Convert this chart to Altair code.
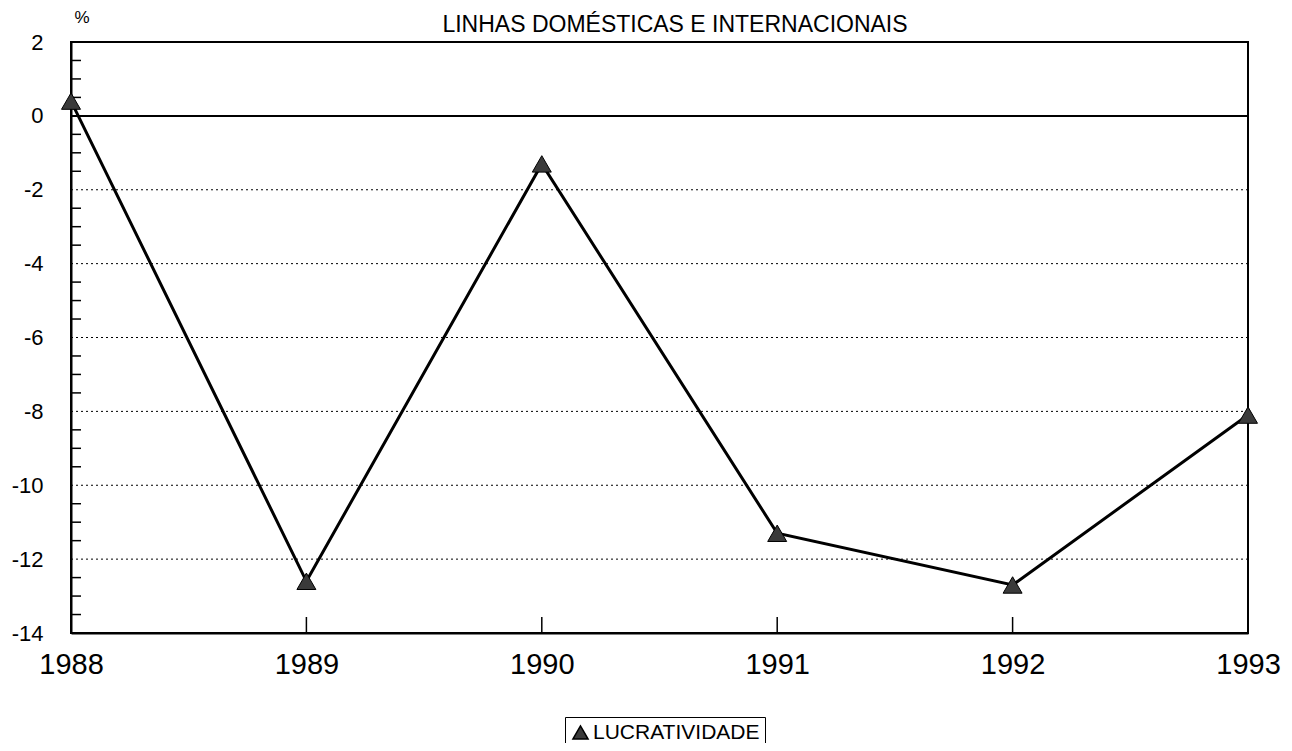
import altair as alt
import pandas as pd

# ---- data ----
years = [1988, 1989, 1990, 1991, 1992, 1993]
lucratividade = [0.4, -12.6, -1.3, -11.3, -12.7, -8.1]
series_name = "LUCRATIVIDADE"
y_tick_labels = [2, 0, -2, -4, -6, -8, -10, -12, -14]
grid_dotted = [-2, -4, -6, -8, -10, -12]
zero_line = [0]
minor_y = [1.5, 1, 0.5, -0.5, -1, -1.5, -2.5, -3, -3.5, -4.5, -5, -5.5,
           -6.5, -7, -7.5, -8.5, -9, -9.5, -10.5, -11, -11.5, -12.5, -13, -13.5]
title_text = "LINHAS DOMÉSTICAS E INTERNACIONAIS"
unit_text = "%"

FONT = "Liberation Sans"

df = pd.DataFrame({"ano": years, "valor": lucratividade, "serie": [series_name] * len(years)})

x_scale = alt.Scale(domain=[1988, 1993], nice=False, zero=False)
y_scale = alt.Scale(domain=[-14, 2], nice=False, zero=False)

x_axis = alt.Axis(values=years, format="d", labelFontSize=29, labelPadding=17,
                  ticks=False, domain=True, domainColor="black", domainWidth=2,
                  grid=False, title=None, labelColor="black", labelFont=FONT,
                  labelFlush=False)
y_axis = alt.Axis(values=y_tick_labels, labelFontSize=22, labelPadding=28,
                  ticks=False, domain=True, domainColor="black", domainWidth=2,
                  grid=False, title=None, labelColor="black", labelFont=FONT,
                  labelFlush=False,
                  labelExpr="datum.value < 0 ? '-' + abs(datum.value) : '' + datum.value")

X = alt.X("ano:Q", scale=x_scale, axis=x_axis)
Y = alt.Y("valor:Q", scale=y_scale, axis=y_axis)

grid = alt.Chart(pd.DataFrame({"valor": grid_dotted})).mark_rule(
    color="black", strokeDash=[2, 3], strokeWidth=1
).encode(y=Y)

zero = alt.Chart(pd.DataFrame({"valor": zero_line})).mark_rule(
    color="black", strokeWidth=2
).encode(y=Y)

yticks = alt.Chart(pd.DataFrame({"valor": minor_y})).mark_rule(
    color="black", strokeWidth=1.5
).encode(y=Y, x=alt.value(0), x2=alt.value(10))

xticks = alt.Chart(pd.DataFrame({"ano": years})).mark_rule(
    color="black", strokeWidth=1.5
).encode(x=X, y=alt.value(591), y2=alt.value(575))

line = alt.Chart(df).mark_line(color="black", strokeWidth=3).encode(x=X, y=Y)

points = alt.Chart(df).mark_point(
    shape="triangle-up", filled=True, size=360, stroke="black", strokeWidth=1, opacity=1
).encode(
    x=X, y=Y,
    color=alt.Color("serie:N", scale=alt.Scale(range=["#3a3a3a"]),
                    legend=alt.Legend(orient="none", legendX=494, legendY=675, title=None,
                                      strokeColor="black", padding=5, labelFontSize=21,
                                      labelFont=FONT, labelColor="black", labelLimit=400,
                                      symbolType="triangle-up", symbolSize=230,
                                      symbolStrokeColor="black", labelOffset=2,
                                      rowPadding=0))
)

title_df = pd.DataFrame({"t": [title_text]})
title = alt.Chart(title_df).mark_text(
    fontSize=23, font=FONT, align="center", baseline="alphabetic", color="black"
).encode(text="t:N", x=alt.value(604), y=alt.value(-10))

unit = alt.Chart(pd.DataFrame({"t": [unit_text]})).mark_text(
    fontSize=17, font=FONT, align="center", baseline="alphabetic", color="black"
).encode(text="t:N", x=alt.value(11), y=alt.value(-19))

chart = alt.layer(grid, zero, yticks, xticks, line, points, title, unit).properties(
    width=1177, height=591,
    padding={"left": 63, "top": 34, "right": 36, "bottom": 110},
    autosize=alt.AutoSizeParams(type="none"),
    background="white",
).configure(font=FONT).configure_view(stroke="black", strokeWidth=2)

chart.save("out.html", embed_options={"renderer": "svg", "actions": False})
